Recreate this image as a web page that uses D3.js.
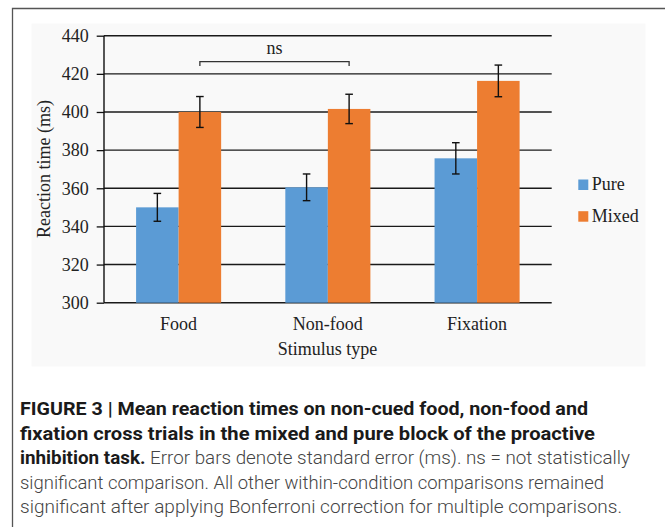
<!DOCTYPE html>
<html>
<head>
<meta charset="utf-8">
<script src="https://cdn.jsdelivr.net/npm/d3@7"></script>
<style>
  html, body { margin: 0; padding: 0; background: #ffffff; }
  svg { display: block; }
</style>
</head>
<body>
<svg id="chart" width="665" height="527"></svg>
<script>
// ---- data ----
const categories = ["Food", "Non-food", "Fixation"];
const seriesNames = ["Pure", "Mixed"];
const pureValues = [350, 360.5, 375.7];
const mixedValues = [400, 401.6, 416.3];
const pureErrors = [7.3, 7.0, 8.2];
const mixedErrors = [8.1, 7.7, 8.3];
const yTicks = [300, 320, 340, 360, 380, 400, 420, 440];
const yTitle = "Reaction time (ms)";
const xTitle = "Stimulus type";
const nsPair = ["Food", "Non-food"];
const nsLabel = "ns";
const captionLines = [
  [{t: "FIGURE 3 | Mean reaction times on non-cued food, non-food and", b: true}],
  [{t: "fixation cross trials in the mixed and pure block of the proactive", b: true}],
  [{t: "inhibition task.", b: true}, {t: " Error bars denote standard error (ms). ns = not statistically", b: false}],
  [{t: "significant comparison. All other within-condition comparisons remained", b: false}],
  [{t: "significant after applying Bonferroni correction for multiple comparisons.", b: false}]
];
const captionWidths = [568, 575, 610, 584, 602];

const colors = {Pure: "#5b9bd5", Mixed: "#ed7d31"};
const serif = "'Liberation Serif', 'Times New Roman', serif";

const svg = d3.select("#chart");

// frame
svg.append("path")
  .attr("d", "M12.5,527 L12.5,8.5 L665,8.5")
  .attr("fill", "none").attr("stroke", "#555").attr("stroke-width", 1.3);

// plot background
svg.append("rect").attr("x", 31.5).attr("y", 23.5).attr("width", 614).attr("height", 343)
  .attr("fill", "#f9f9f9");

const x0 = d3.scaleBand().domain(categories).range([104, 551.7]).paddingInner(0.43).paddingOuter(0.215);
const x1 = d3.scaleBand().domain(seriesNames).range([0, x0.bandwidth()]).padding(0);
const y = d3.scaleLinear().domain([300, 440]).range([302.7, 35.7]);

// y axis ticks and labels
const yAxis = d3.axisLeft(y).tickValues(yTicks).tickSize(7.3).tickPadding(8);
const gy = svg.append("g").attr("transform", "translate(104,0)").call(yAxis);
gy.select(".domain").remove();
gy.selectAll(".tick line").attr("stroke", "#111").attr("stroke-width", 1.3);
gy.selectAll(".tick text").attr("font-family", serif).attr("font-size", 18).attr("fill", "#222");

// grid lines
svg.append("g").selectAll("line").data(yTicks).join("line")
  .attr("x1", 104).attr("x2", 551.7)
  .attr("y1", d => y(d)).attr("y2", d => y(d))
  .attr("stroke", "#1a1a1a").attr("stroke-width", 1.4);

// bars
const rows = categories.map((c, i) => ({
  cat: c,
  vals: [
    {s: "Pure", v: pureValues[i], e: pureErrors[i]},
    {s: "Mixed", v: mixedValues[i], e: mixedErrors[i]}
  ]
}));

const groups = svg.append("g").selectAll("g").data(rows).join("g")
  .attr("transform", d => `translate(${x0(d.cat)},0)`);

groups.selectAll("rect").data(d => d.vals).join("rect")
  .attr("x", d => x1(d.s))
  .attr("width", x1.bandwidth())
  .attr("y", d => y(d.v))
  .attr("height", d => y(300) - y(d.v))
  .attr("fill", d => colors[d.s]);

// error bars
const eb = groups.selectAll("g.err").data(d => d.vals).join("g").attr("class", "err")
  .attr("transform", d => `translate(${x1(d.s) + x1.bandwidth() / 2},0)`);
eb.append("line").attr("x1", 0).attr("x2", 0)
  .attr("y1", d => y(d.v + d.e)).attr("y2", d => y(d.v - d.e))
  .attr("stroke", "#111").attr("stroke-width", 1.4);
eb.append("line").attr("x1", -3.8).attr("x2", 3.8)
  .attr("y1", d => y(d.v + d.e)).attr("y2", d => y(d.v + d.e))
  .attr("stroke", "#111").attr("stroke-width", 1.4);
eb.append("line").attr("x1", -3.8).attr("x2", 3.8)
  .attr("y1", d => y(d.v - d.e)).attr("y2", d => y(d.v - d.e))
  .attr("stroke", "#111").attr("stroke-width", 1.4);

// y axis line
svg.append("line").attr("x1", 104).attr("x2", 104).attr("y1", y(440)).attr("y2", y(300))
  .attr("stroke", "#111").attr("stroke-width", 1.4);

// x category labels
svg.append("g").selectAll("text").data(categories).join("text")
  .attr("x", d => x0(d) + x0.bandwidth() / 2)
  .attr("y", 330)
  .attr("text-anchor", "middle")
  .attr("font-family", serif).attr("font-size", 18).attr("fill", "#222")
  .text(d => d);

svg.append("text").attr("x", 327.5).attr("y", 355)
  .attr("text-anchor", "middle").attr("font-family", serif).attr("font-size", 18).attr("fill", "#222")
  .text(xTitle);

svg.append("text").attr("transform", "translate(50,169) rotate(-90)")
  .attr("text-anchor", "middle").attr("font-family", serif).attr("font-size", 18).attr("fill", "#222")
  .text(yTitle);

// ns bracket
const mixedCenter = c => x0(c) + x1("Mixed") + x1.bandwidth() / 2;
const bx1 = mixedCenter(nsPair[0]), bx2 = mixedCenter(nsPair[1]);
svg.append("path")
  .attr("d", `M${bx1},66 L${bx1},61.7 L${bx2},61.7 L${bx2},66`)
  .attr("fill", "none").attr("stroke", "#333").attr("stroke-width", 1.3);
svg.append("text").attr("x", (bx1 + bx2) / 2).attr("y", 54.3)
  .attr("text-anchor", "middle").attr("font-family", serif).attr("font-size", 18).attr("fill", "#222")
  .text(nsLabel);

// legend
const leg = svg.append("g").selectAll("g").data(seriesNames).join("g")
  .attr("transform", (d, i) => `translate(578.3,${179.5 + i * 31.7})`);
leg.append("rect").attr("width", 10).attr("height", 10.5).attr("fill", d => colors[d]);
leg.append("text").attr("x", 13.5).attr("y", 10.5)
  .attr("font-family", serif).attr("font-size", 18).attr("fill", "#222")
  .text(d => d);

// caption
const cap = svg.append("g").selectAll("text").data(captionLines).join("text")
  .attr("x", 20)
  .attr("y", (d, i) => 415 + i * 24.5)
  .attr("font-family", "Roboto, 'Liberation Sans', sans-serif")
  .attr("font-size", 17.5)
  .attr("textLength", (d, i) => captionWidths[i])
  .attr("lengthAdjust", "spacingAndGlyphs");
cap.selectAll("tspan").data(d => d).join("tspan")
  .attr("font-weight", d => d.b ? 700 : 300)
  .attr("fill", d => d.b ? "#1a1a1a" : "#444")
  .text(d => d.t);
</script>
</body>
</html>
